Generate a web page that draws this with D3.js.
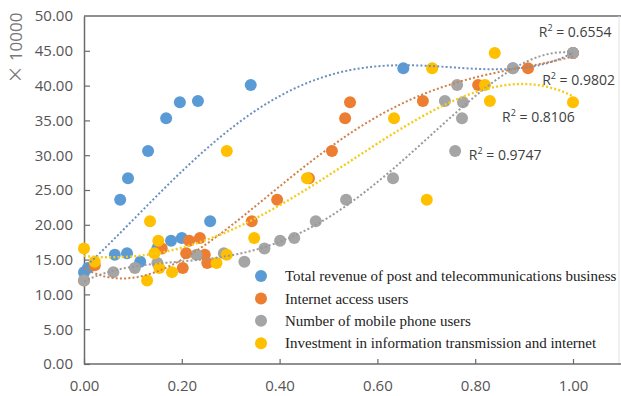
<!DOCTYPE html>
<html>
<head>
<meta charset="utf-8">
<script src="https://cdn.jsdelivr.net/npm/d3@7"></script>
<style>
  body { margin: 0; background: #fff; }
  svg { display: block; }
</style>
</head>
<body>
<script>
// ---- data ----
var seriesNames = [
  "Total revenue of post and telecommunications business",
  "Internet access users",
  "Number of mobile phone users",
  "Investment in information transmission and internet"
];
var seriesColors = ["#5B9BD5", "#ED7D31", "#A5A5A5", "#FFC000"];
var lineColors = ["#6d8fc0", "#d0804a", "#9a9a9a", "#f5cc1a"];

var revenueX = [0.0, 0.008, 0.115, 0.063, 0.088, 0.15, 0.178, 0.20, 0.258, 0.074, 0.09, 0.131, 0.168, 0.196, 0.233, 0.341, 0.653, 0.877, 1.0];
var revenueY = [13.2, 13.8, 14.7, 15.7, 15.9, 16.6, 17.7, 18.1, 20.5, 23.6, 26.7, 30.6, 35.3, 37.6, 37.8, 40.1, 42.5, 42.5, 44.7];

var internetX = [0.0, 0.202, 0.022, 0.252, 0.247, 0.209, 0.159, 0.215, 0.237, 0.343, 0.395, 0.46, 0.507, 0.534, 0.544, 0.693, 0.806, 0.908, 1.0];
var internetY = [12.0, 13.8, 14.2, 14.5, 15.7, 15.9, 16.6, 17.7, 18.1, 20.5, 23.6, 26.7, 30.6, 35.3, 37.6, 37.8, 40.1, 42.5, 44.7];

var mobileX = [0.0, 0.06, 0.104, 0.15, 0.328, 0.23, 0.286, 0.369, 0.401, 0.43, 0.474, 0.536, 0.632, 0.759, 0.773, 0.775, 0.738, 0.763, 0.877, 1.0];
var mobileY = [12.0, 13.2, 13.8, 14.5, 14.7, 15.7, 15.9, 16.6, 17.7, 18.1, 20.5, 23.6, 26.7, 30.6, 35.3, 37.6, 37.8, 40.1, 42.5, 44.7];

var investX = [0.129, 0.18, 0.154, 0.271, 0.022, 0.292, 0.144, 0.0, 0.152, 0.348, 0.135, 0.701, 0.456, 0.292, 0.634, 1.0, 0.83, 0.82, 0.712, 0.84];
var investY = [12.0, 13.2, 13.8, 14.5, 14.7, 15.7, 15.9, 16.6, 17.7, 18.1, 20.5, 23.6, 26.7, 30.6, 35.3, 37.6, 37.8, 40.1, 42.5, 44.7];

var rSquared = ["0.6554", "0.9802", "0.9747", "0.8106"];
// where each R² label sits, in data units (x, y of the text baseline start)
var rLabelX = [0.930, 0.937, 0.787, 0.855];
var rLabelY = [47.0, 40.1, 29.3, 34.8];

var xTicks = [0, 0.2, 0.4, 0.6, 0.8, 1.0];
var yTicks = [0, 5, 10, 15, 20, 25, 30, 35, 40, 45, 50];

var allX = [revenueX, internetX, mobileX, investX];
var allY = [revenueY, internetY, mobileY, investY];
var trendOrder = 4;

// ---- least squares polynomial, like the spreadsheet trendline ----
function polyfit(xs, ys, order) {
  var n = order + 1;
  var A = [], b = [];
  for (var i = 0; i < n; i++) {
    A.push([]);
    for (var j = 0; j < n; j++) A[i].push(d3.sum(xs, function(x) { return Math.pow(x, i + j); }));
    b.push(d3.sum(xs, function(x, k) { return Math.pow(x, i) * ys[k]; }));
  }
  for (var c = 0; c < n; c++) {
    var p = c;
    for (var r = c + 1; r < n; r++) if (Math.abs(A[r][c]) > Math.abs(A[p][c])) p = r;
    var t = A[c]; A[c] = A[p]; A[p] = t;
    var tb = b[c]; b[c] = b[p]; b[p] = tb;
    for (var r2 = c + 1; r2 < n; r2++) {
      var f = A[r2][c] / A[c][c];
      for (var k = c; k < n; k++) A[r2][k] -= f * A[c][k];
      b[r2] -= f * b[c];
    }
  }
  var coef = new Array(n);
  for (var i2 = n - 1; i2 >= 0; i2--) {
    var s = b[i2];
    for (var j2 = i2 + 1; j2 < n; j2++) s -= A[i2][j2] * coef[j2];
    coef[i2] = s / A[i2][i2];
  }
  return function(x) { return d3.sum(coef, function(cf, i) { return cf * Math.pow(x, i); }); };
}

// ---- drawing ----
var W = 621, H = 396;
var mLeft = 84, mTop = 16, mBottom = 364, mRight = 619;

var svg = d3.select("body").append("svg")
  .attr("width", W)
  .attr("height", H);

var x = d3.scaleLinear().domain([0, 1]).range([mLeft, 573]);
var y = d3.scaleLinear().domain([0, 50]).range([mBottom, mTop]);

// frame
svg.append("line").attr("x1", mLeft).attr("x2", W).attr("y1", mTop).attr("y2", mTop)
  .attr("stroke", "#6b6b6b").attr("stroke-width", 1.5);
svg.append("line").attr("x1", mRight).attr("x2", mRight).attr("y1", mTop).attr("y2", mBottom)
  .attr("stroke", "#e2e2e2").attr("stroke-width", 1);

var xAxis = svg.append("g").attr("transform", "translate(0," + mBottom + ")")
  .call(d3.axisBottom(x).tickValues(xTicks).tickFormat(d3.format(".2f")).tickSizeInner(-5).tickSizeOuter(0).tickPadding(16));
xAxis.select(".domain").attr("d", "M" + mLeft + ",0H" + W);

var yAxis = svg.append("g").attr("transform", "translate(" + mLeft + ",0)")
  .call(d3.axisLeft(y).tickValues(yTicks).tickFormat(d3.format(".2f")).tickSizeInner(-6).tickSizeOuter(0).tickPadding(11));

svg.selectAll(".domain").attr("stroke", "#6b6b6b").attr("stroke-width", 1.5);
svg.selectAll(".tick line").attr("stroke", "#6b6b6b").attr("stroke-width", 1.2);
svg.selectAll(".tick text")
  .attr("fill", "#555")
  .style("font-family", "'Open Sans', sans-serif")
  .style("font-size", "15px");
yAxis.selectAll(".tick").filter(function(d) { return d === 50; }).select("line").remove();

// unit label, the × is the wide CJK glyph
var unit = svg.append("text")
  .attr("transform", "translate(22,48) rotate(-90)")
  .attr("text-anchor", "middle")
  .attr("fill", "#777")
  .style("font-family", "'Open Sans', sans-serif")
  .style("font-size", "17px");
unit.append("tspan").style("font-family", "'Noto Sans CJK SC'").style("font-size", "18px").text("\u00d7");
unit.append("tspan").text(" 10000");

// points
allX.forEach(function(xs, s) {
  svg.append("g").selectAll("circle")
    .data(xs)
    .enter()
    .append("circle")
      .attr("cx", function(d) { return x(d); })
      .attr("cy", function(d, i) { return y(allY[s][i]); })
      .attr("r", 6)
      .attr("fill", seriesColors[s]);
});

// trendlines
var line = d3.line().x(function(d) { return x(d[0]); }).y(function(d) { return y(d[1]); });
var steps = d3.range(0, 1.0001, 0.01);
allX.forEach(function(xs, s) {
  var f = polyfit(xs, allY[s], trendOrder);
  svg.append("path")
    .datum(steps.map(function(t) { return [t, f(t)]; }))
    .attr("d", line)
    .attr("fill", "none")
    .attr("stroke", lineColors[s])
    .attr("stroke-width", s === 3 ? 2.4 : 2)
    .attr("stroke-dasharray", "2,2.2");
});

// R² labels
rSquared.forEach(function(v, i) {
  var t = svg.append("text")
    .attr("x", x(rLabelX[i]))
    .attr("y", y(rLabelY[i]))
    .attr("fill", "#404040")
    .style("font-family", "'Open Sans', sans-serif")
    .style("font-size", "14px");
  t.append("tspan").text("R");
  t.append("tspan").attr("dy", -6).style("font-size", "9px").text("2");
  t.append("tspan").attr("dy", 6).text(" = " + v);
});

// legend
var legend = svg.append("g").selectAll("g")
  .data(seriesNames)
  .enter()
  .append("g")
    .attr("transform", function(d, i) { return "translate(261," + (276 + i * 22.4) + ")"; });
legend.append("circle").attr("r", 6).attr("fill", function(d, i) { return seriesColors[i]; });
legend.append("text")
  .attr("x", 24)
  .attr("dy", "0.35em")
  .attr("fill", "#222")
  .style("font-family", "'Liberation Serif', serif")
  .style("font-size", "15px")
  .text(function(d) { return d; });
</script>
</body>
</html>
